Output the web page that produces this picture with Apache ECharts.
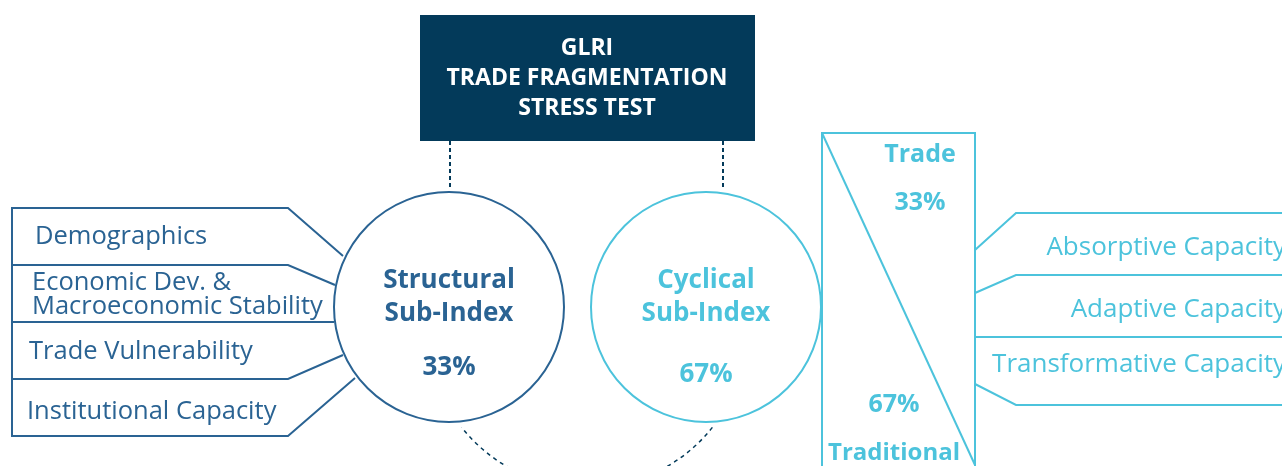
<!DOCTYPE html>
<html>
<head>
<meta charset="utf-8">
<script src="https://cdn.jsdelivr.net/npm/echarts@6/dist/echarts.min.js"></script>
<style>
  html, body { margin: 0; padding: 0; background: #fff; }
  #chart { width: 1282px; height: 466px; }
</style>
</head>
<body>
<div id="chart"></div>
<script>
// diagram content
const titleLines = ['GLRI', 'TRADE FRAGMENTATION', 'STRESS TEST'];
const subIndexNames = ['Structural\nSub-Index', 'Cyclical\nSub-Index'];
const subIndexWeights = [33, 67];
const structuralPillars = ['Demographics', 'Economic Dev. &\nMacroeconomic Stability', 'Trade Vulnerability', 'Institutional Capacity'];
const cyclicalSplit = ['Trade', 'Traditional'];
const cyclicalSplitWeights = [33, 67];
const cyclicalPillars = ['Absorptive Capacity', 'Adaptive Capacity', 'Transformative Capacity'];

const NAVY = '#033a5a';
const DARK = '#2a6393';
const CYAN = '#4cc3dc';
const FONT = '"Open Sans", "DejaVu Sans", sans-serif';

const chart = echarts.init(document.getElementById('chart'), null, { renderer: 'canvas' });

function txt(text, x, y, color, size, weight, align, lineHeight) {
  return {
    type: 'text',
    style: {
      text: text, x: x, y: y, fill: color,
      fontSize: size, fontWeight: weight || 'normal', fontFamily: FONT,
      textAlign: align || 'center', textVerticalAlign: 'middle',
      lineHeight: lineHeight || size * 1.2
    }
  };
}
function poly(points, color, dash) {
  return {
    type: 'polyline',
    shape: { points: points },
    style: { stroke: color, lineWidth: 2, fill: null, lineDash: dash || null }
  };
}

const elements = [];

// title box + dashed connectors
elements.push({ type: 'rect', shape: { x: 420, y: 15, width: 335, height: 126 }, style: { fill: NAVY } });
titleLines.forEach((t, i) => elements.push(txt(t, 587, 48 + i * 30, '#ffffff', 23, 'bold')));
elements.push(poly([[450, 141], [450, 187]], NAVY, [4, 3]));
elements.push(poly([[723, 141], [723, 187]], NAVY, [4, 3]));

// lower dashed arc linking the two circles
elements.push({
  type: 'arc',
  shape: { cx: 587, cy: 328, r: 160, startAngle: 38.4 * Math.PI / 180, endAngle: 141.6 * Math.PI / 180, clockwise: true },
  style: { stroke: NAVY, lineWidth: 1.5, fill: null, lineDash: [4, 4] },
  z: 1
});

// sub-index circles
const circleX = [449, 706];
const circleColor = [DARK, CYAN];
const pctY = [368, 375];
subIndexNames.forEach((name, i) => {
  elements.push({ type: 'circle', shape: { cx: circleX[i], cy: 307, r: 115 }, style: { fill: '#fff', stroke: circleColor[i], lineWidth: 2 }, z: 2 });
  elements.push(Object.assign(txt(name, circleX[i], 297, circleColor[i], 26, 'bold', 'center', 33), { z: 3 }));
  elements.push(Object.assign(txt(subIndexWeights[i] + '%', circleX[i], pctY[i], circleColor[i], 26, 'bold'), { z: 3 }));
});

// structural pillars (left)
elements.push(poly([[343, 256], [288, 208], [12, 208], [12, 436], [288, 436], [355, 378]], DARK));
elements.push(poly([[12, 265], [288, 265], [335, 285]], DARK));
elements.push(poly([[12, 322], [334, 322]], DARK));
elements.push(poly([[12, 379], [288, 379], [343, 355]], DARK));
const leftX = [35, 32, 29, 27];
const leftY = [237, 295, 352, 412];
structuralPillars.forEach((p, i) => elements.push(txt(p, leftX[i], leftY[i], DARK, 25.5, 'normal', 'left', 24)));

// cyclical split box
elements.push({ type: 'rect', shape: { x: 822, y: 133, width: 153, height: 345 }, style: { fill: null, stroke: CYAN, lineWidth: 2 } });
elements.push(poly([[822, 133], [975, 465]], CYAN));
elements.push(txt(cyclicalSplit[0], 920, 155, CYAN, 25, 'bold'));
elements.push(txt(cyclicalSplitWeights[0] + '%', 920, 203, CYAN, 25, 'bold'));
elements.push(txt(cyclicalSplitWeights[1] + '%', 894, 405, CYAN, 25, 'bold'));
elements.push(txt(cyclicalSplit[1], 828, 453, CYAN, 24, 'bold', 'left'));

// cyclical pillars (right)
elements.push(poly([[975, 250], [1016, 213], [1290, 213]], CYAN));
elements.push(poly([[975, 293], [1016, 275], [1290, 275]], CYAN));
elements.push(poly([[975, 337], [1290, 337]], CYAN));
elements.push(poly([[975, 384], [1016, 405], [1290, 405]], CYAN));
const rightY = [248, 310, 365];
cyclicalPillars.forEach((p, i) => elements.push(txt(p, 1286, rightY[i], CYAN, 26, 'normal', 'right')));

chart.setOption({
  backgroundColor: '#ffffff',
  animation: false,
  graphic: { elements: elements }
});

window.addEventListener('resize', function () {
  chart.resize();
});
</script>
</body>
</html>
